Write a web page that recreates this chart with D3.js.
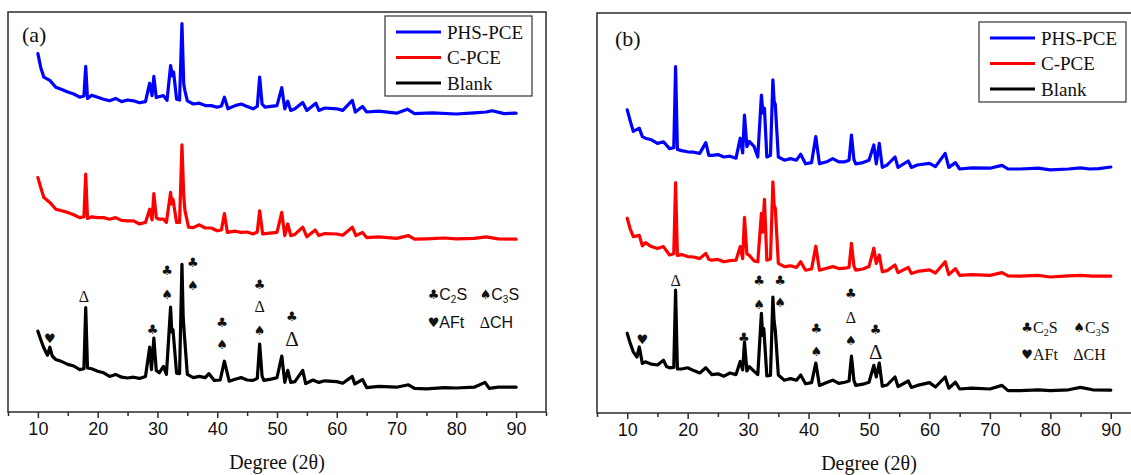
<!DOCTYPE html>
<html>
<head>
<meta charset="utf-8">
<script src="https://cdn.jsdelivr.net/npm/d3@7"></script>
<style>
  body { margin: 0; background: #fff; }
  svg { display: block; }
</style>
</head>
<body>
<div id="chart"></div>
<script>
// ---- data (2theta, relative intensity 0-100 of panel height) ----
const xTicks = [10, 20, 30, 40, 50, 60, 70, 80, 90];
const seriesNames = ["PHS-PCE", "C-PCE", "Blank"];
const seriesColors = ["#0000ff", "#ff0000", "#000000"];

const aPHS = [[10,89.6],[10.5,86],[11,83.7],[12,82.9],[13,81.2],[14,80.6],[15,80],[16,79.5],[17,78.7],[17.7,79],[18,86.4],[18.3,78.4],[19,79.2],[20,78.7],[21,78.2],[22,77.8],[23,78.4],[24,77.6],[25,78],[26,77.8],[27,77.3],[28,77.6],[28.7,82.2],[29.1,79.1],[29.4,83.9],[29.8,78.6],[30.2,78.8],[31,79.1],[31.6,77.9],[32.2,86.6],[32.5,84],[32.7,85],[33.2,78.2],[33.7,78],[34.1,97.1],[34.4,82],[34.6,80.3],[35,77.8],[36,77],[37,77.2],[38,76.6],[39,76.6],[40,76.2],[40.7,76.5],[41.2,78.7],[41.8,75.8],[43,76.6],[44,77],[45,76.4],[46,75.8],[46.7,76.4],[47.1,83.7],[47.5,77],[48,76.2],[50,76.6],[50.8,81.1],[51.3,75.8],[51.8,77.7],[52.3,75.4],[53,75.8],[54.3,77.4],[55,75.4],[56.5,77.2],[57,75.4],[58,76],[60,75.8],[61,75.4],[62.6,77.9],[63.1,75],[64.3,76.4],[65,75],[67,75.2],[70,74.7],[71.8,75.7],[73,74.6],[76,74.8],[80,74.5],[83,74.8],[85,75],[86,75.3],[88,74.6],[90,74.7]];
const aCPCE = [[10,58.6],[10.5,56],[11,53.6],[12,52.4],[13,50.7],[14,50.3],[15,49.9],[16,49.3],[17,48.6],[17.7,48.8],[18,59.5],[18.3,48.4],[19,48.8],[20,48.6],[21,48.6],[22,48.2],[23,48.6],[24,47.9],[25,47.8],[26,47.8],[27,47],[28,47.4],[28.7,50.7],[29.1,48],[29.4,54.6],[29.8,48.6],[30.2,48.2],[31,48.2],[31.5,47.4],[32.2,54.9],[32.4,52],[32.6,53.2],[33.2,47.4],[33.7,47.4],[34.1,66.8],[34.4,54],[34.6,50.4],[35.2,46.2],[36,46.1],[37,46.8],[38,46],[39,46],[40,45.3],[40.7,45.5],[41.2,49.6],[41.7,44.9],[43,45.2],[44,44.9],[45,45],[46,44.5],[46.7,45],[47.1,50.3],[47.6,44.5],[48,44.6],[50,44.9],[50.8,49.9],[51.3,44.1],[51.8,47],[52.3,44.1],[53,44.4],[54.3,46.2],[55,43.8],[56.4,45.5],[57,44.1],[58,44.6],[60,44.5],[61,44.2],[62.6,46.2],[63.2,44.1],[64.3,44.9],[65,43.6],[67,43.8],[70,43.4],[72,44.1],[73,43.2],[75,43.3],[78,43.5],[80,43.3],[83,43.4],[85,43.8],[87,43.3],[90,43.2]];
const aBlank = [[10,20.2],[10.5,18],[11,16],[11.6,14.2],[12,16.2],[12.4,14],[13,13.1],[14,12.6],[15,11.9],[16,11.5],[17,10.6],[17.7,10.8],[18,26.1],[18.3,11],[19,10.8],[20,10.2],[21,9.8],[22,8.9],[23,9.4],[24,8.7],[25,8.5],[26,8.7],[27,8.4],[28,8.9],[28.7,16.2],[29,10.6],[29.4,18.5],[29.8,10.4],[30.3,9.8],[31,11.4],[31.5,9.4],[32.2,26.2],[32.4,20],[32.6,20.6],[33.2,9.7],[33.7,9.6],[34.1,36.9],[34.3,24],[34.5,19.4],[35,9.4],[36,8.6],[37,8.9],[38,8.6],[38.6,9.6],[39.5,7.9],[40.5,8],[41.2,12.7],[42,7.7],[43,8.2],[44,8.6],[45,8],[46,7.9],[46.7,8.4],[47.1,17],[47.5,9],[47.8,7.9],[49,8.2],[50,8.6],[50.8,14],[51.3,7.4],[51.8,10.4],[52.3,7.4],[53,7.6],[54.3,10.4],[54.8,7.1],[56,8],[57,7.4],[58,7.8],[60,7.6],[61,7.2],[62.6,8.9],[63,7],[64.3,8.1],[65,6.1],[67,6.4],[70,6.2],[72,6.8],[73,5.9],[75,5.8],[78,6.1],[80,6],[83,6.2],[84.8,7.4],[85.5,5.9],[87,6.2],[90,6.2]];

const bPHS = [[10,75.8],[10.5,73],[11,70.4],[12,71.2],[12.5,69.1],[13,68.7],[14,68.3],[15,67.4],[16,67.8],[17,66.1],[17.7,66.3],[18,86.6],[18.3,65.9],[19,65.6],[20,65.3],[21,65.2],[22,64.9],[23,67.6],[23.5,64.4],[24,64.4],[25,64.6],[26,64],[27,64.2],[28,63.7],[28.7,68.7],[29.1,65],[29.4,74.5],[29.8,66.6],[30.2,67.9],[31,66.6],[31.6,64],[32.2,79.5],[32.45,75],[32.7,76.2],[33.1,64],[33.7,64.4],[34.1,83.3],[34.3,78],[34.5,77.1],[35,64],[36,63.2],[37,63.6],[38,63.2],[38.7,64.7],[39.5,62.3],[40.5,62.6],[41.2,69.1],[41.8,62.3],[43,62.8],[44,63.6],[45,62.8],[46,62.8],[46.7,63.2],[47.1,69.5],[47.5,63.4],[47.8,62.3],[49,62.6],[50,63.2],[50.8,67],[51.2,62.3],[51.7,67.4],[52.2,61.4],[53,62],[54.3,64],[54.8,61.4],[56.5,63],[57,61.4],[58,62],[60,62.4],[61,61.6],[62.6,64.9],[63.2,61.4],[64.3,62.6],[65,61],[67,61.3],[70,61.2],[72,61.9],[73,61],[75,61],[78,61.2],[80,60.8],[83,61],[85,61.3],[86.5,61],[88,61.1],[90,61.5]];
const bCPCE = [[10,48.7],[10.5,46],[11,44.1],[12,44.4],[12.5,41.8],[13,42.6],[14,41.6],[15,41.1],[16,41.6],[17,39.5],[17.7,39.8],[18,57.6],[18.3,39.4],[19,39.6],[20,39.1],[21,39],[22,38.6],[23,39.9],[23.5,38.4],[24,38.2],[25,38.4],[26,37.8],[27,38.1],[28,38.2],[28.7,41.6],[29.1,38.6],[29.4,48.9],[29.8,39.8],[30.2,39.4],[31,38],[31.6,37.8],[32.2,49.9],[32.4,45.2],[32.7,53.4],[33.1,38.2],[33.7,38.5],[34.1,57.8],[34.3,52],[34.5,51.2],[35,37.4],[36,36.6],[37,36.8],[38,36.4],[38.7,37.8],[39.5,35.7],[40.5,36],[41.2,41.7],[41.8,35.7],[43,36.2],[44,36.6],[45,36.1],[46,36.2],[46.7,36.4],[47.1,42.4],[47.5,36.8],[47.8,35.7],[49,36],[50,36.6],[50.8,41.2],[51.2,37.4],[51.7,39.5],[52.2,35.3],[53,35.6],[54.3,37],[54.8,35.1],[56.5,36.4],[57,34.9],[58,35.4],[60,35.8],[61,35],[62.6,37.8],[63.2,34.6],[64.3,36.1],[65,34.4],[67,34.6],[70,34.4],[72,35.1],[73,34.3],[75,34.2],[78,34.4],[80,34],[83,34.3],[85,34.4],[87,34.2],[90,34.2]];
const bBlank = [[10,19.9],[10.5,17.4],[11,15.3],[11.6,14],[12,16.5],[12.5,12.4],[13,12.8],[14,12.2],[15,12],[16,13.2],[16.5,11.6],[17,11.3],[17.7,11.4],[18,30.7],[18.3,11],[19,11],[20,11.3],[21,10.6],[22,10],[23,11.3],[24,9.6],[25,9.8],[26,9.2],[27,10],[28,9.6],[28.7,12.9],[29.1,10.8],[29.4,17.8],[29.8,10.5],[30.2,11.6],[31,10.4],[31.6,9.6],[32.2,24.9],[32.4,19.4],[32.6,21.1],[33.1,9.3],[33.7,9.4],[34.1,29],[34.3,23],[34.5,20.7],[35,9.5],[36,8.2],[37,8.6],[38,8.2],[38.7,9.5],[39.5,7.3],[40.5,7.6],[41.2,12.5],[41.8,6.9],[43,7.6],[44,8.2],[45,7.4],[46,7.7],[46.7,8],[47.1,14.2],[47.5,8.2],[47.8,6.9],[49,7.2],[50,7.7],[50.8,11.9],[51.2,9],[51.7,12.5],[52.2,6.7],[53,7],[54.3,9],[54.8,6.6],[56.5,8],[57,6.4],[58,6.9],[60,7.6],[61,6.5],[62.6,9],[63.2,6.2],[64.3,7.7],[65,6],[67,6.2],[70,6],[72,6.9],[73,5.6],[75,5.6],[78,5.8],[80,5.6],[83,5.8],[85,6.4],[87,5.8],[90,5.7]];

// phase markers above the Blank peaks: [2theta, intensity, symbol, size]
const aMarks = [[12.0,18.4,"♥",13],[17.7,29.0,"Δ",16],[29.2,20.6,"♣",13],[31.6,35.3,"♣",13],[31.6,29.4,"♠",13],
  [35.9,37.3,"♣",13],[35.9,31.7,"♠",13],[40.8,22.4,"♣",13],[40.8,16.8,"♠",13],
  [47.1,31.8,"♣",13],[47.1,26.4,"Δ",16],[47.1,20.3,"♠",13],[52.5,24.0,"♣",13],[52.5,18.2,"Δ",21]];
const bMarks = [[12.5,18.4,"♥",13],[18.0,33.1,"Δ",16],[29.3,19.0,"♣",13],[31.8,33.1,"♣",13],[31.8,27.2,"♠",13],
  [35.3,33.1,"♣",13],[35.3,27.6,"♠",13],[41.3,21.1,"♣",13],[41.3,15.5,"♠",13],
  [47.0,29.9,"♣",13],[47.0,24.0,"Δ",16],[47.0,18.2,"♠",13],[51.1,21.0,"♣",13],[51.1,15.3,"Δ",21]];

// phase key: [symbol, main, subscript, rest]
const phaseKey = [["♣", "C", "2", "S"], ["♠", "C", "3", "S"], ["♥", "AFt", "", ""], ["Δ", "CH", "", ""]];

// ---- layout ----
const W = 1131, H = 475;
const svg = d3.select("#chart").append("svg")
  .attr("width", W).attr("height", H)
  .style("background-color", "#fff");

const panels = [
  { left: 8, top: 12, right: 546, bottom: 412, label: "(a)", labelX: 22, labelY: 42,
    series: [aPHS, aCPCE, aBlank], marks: aMarks, keyFont: "Liberation Sans, Arial, sans-serif",
    keyX: [75.2, 83.9], keyY: [29.6, 22.6],
    legend: { x: 385, y: 16, w: 147, h: 80 } },
  { left: 597, top: 13, right: 1141, bottom: 413, label: "(b)", labelX: 615, labelY: 46,
    series: [bPHS, bCPCE, bBlank], marks: bMarks, keyFont: "Liberation Serif, Times New Roman, serif",
    keyX: [75.2, 83.8], keyY: [21.5, 14.7],
    legend: { x: 979, y: 22, w: 147, h: 80 } }
];

panels.forEach(function (p) {
  const g = svg.append("g");

  const x = d3.scaleLinear().domain([5, 95]).range([p.left, p.right]);
  const y = d3.scaleLinear().domain([0, 100]).range([p.bottom, p.top]);

  const line = d3.line()
    .x(d => x(d[0]))
    .y(d => y(d[1]));

  // traces
  p.series.forEach(function (s, i) {
    g.append("path")
      .datum(s)
      .attr("d", line)
      .attr("fill", "none")
      .attr("stroke", seriesColors[i])
      .attr("stroke-width", 3.2)
      .attr("stroke-linejoin", "round")
      .attr("stroke-linecap", "round");
  });

  // frame
  g.append("rect")
    .attr("x", p.left).attr("y", p.top)
    .attr("width", p.right - p.left).attr("height", p.bottom - p.top)
    .attr("fill", "none").attr("stroke", "#2b2b2b").attr("stroke-width", 1.5);

  // x axis
  const axis = d3.axisBottom(x)
    .tickValues(xTicks)
    .tickSize(6)
    .tickPadding(4)
    .tickFormat(d3.format("d"));
  const ax = g.append("g")
    .attr("transform", "translate(0," + p.bottom + ")")
    .call(axis);
  ax.select(".domain").remove();
  ax.selectAll("line").attr("stroke", "#2b2b2b").attr("stroke-width", 1.5);
  ax.selectAll("text")
    .style("font-family", "Liberation Sans, Arial, sans-serif")
    .style("font-size", "18px")
    .attr("fill", "#111");

  // minor ticks
  const minor = d3.axisBottom(x)
    .tickValues(d3.range(5, 96, 10))
    .tickSize(4)
    .tickFormat("");
  const mx = g.append("g")
    .attr("transform", "translate(0," + p.bottom + ")")
    .call(minor);
  mx.select(".domain").remove();
  mx.selectAll("line").attr("stroke", "#2b2b2b").attr("stroke-width", 1.5);

  // axis title
  g.append("text")
    .attr("x", x(50)).attr("y", p.bottom + 57)
    .attr("text-anchor", "middle")
    .style("font-family", "Liberation Serif, Times New Roman, serif")
    .style("font-size", "20px")
    .attr("fill", "#111")
    .text("Degree (2θ)");

  // panel label
  g.append("text")
    .attr("x", p.labelX).attr("y", p.labelY)
    .style("font-family", "Liberation Serif, Times New Roman, serif")
    .style("font-size", "22px")
    .attr("fill", "#111")
    .text(p.label);

  // phase markers
  g.selectAll("text.mark")
    .data(p.marks)
    .enter().append("text")
    .attr("class", "mark")
    .attr("x", d => x(d[0]))
    .attr("y", d => y(d[1]))
    .attr("text-anchor", "middle")
    .attr("dominant-baseline", "central")
    .style("font-family", d => d[2] === "Δ" ? "Liberation Serif, serif" : "DejaVu Sans, sans-serif")
    .style("font-size", d => d[3] + "px")
    .attr("fill", "#111")
    .text(d => d[2]);

  // phase key
  phaseKey.forEach(function (k, i) {
    const t = g.append("text")
      .attr("x", x(p.keyX[i % 2]))
      .attr("y", y(p.keyY[Math.floor(i / 2)]))
      .attr("dominant-baseline", "central")
      .style("font-family", p.keyFont)
      .style("font-size", "16px")
      .attr("fill", "#111");
    t.append("tspan")
      .style("font-family", k[0] === "Δ" ? "Liberation Serif, serif" : "DejaVu Sans, sans-serif")
      .style("font-size", k[0] === "Δ" ? "16px" : "13px")
      .text(k[0]);
    t.append("tspan").text(k[1]);
    if (k[2]) {
      t.append("tspan").attr("dy", 5).style("font-size", "10px").text(k[2]);
      t.append("tspan").attr("dy", -5).text(k[3]);
    }
  });

  // legend
  const L = p.legend;
  const lg = g.append("g");
  lg.append("rect")
    .attr("x", L.x).attr("y", L.y).attr("width", L.w).attr("height", L.h)
    .attr("fill", "#fff").attr("stroke", "#333").attr("stroke-width", 1.2);
  seriesNames.forEach(function (name, i) {
    const yy = L.y + 16 + i * 25.5;
    lg.append("line")
      .attr("x1", L.x + 11).attr("x2", L.x + 56)
      .attr("y1", yy).attr("y2", yy)
      .attr("stroke", seriesColors[i]).attr("stroke-width", 3);
    lg.append("text")
      .attr("x", L.x + 62).attr("y", yy)
      .attr("dominant-baseline", "central")
      .style("font-family", "Liberation Serif, Times New Roman, serif")
      .style("font-size", "19px")
      .attr("fill", "#111")
      .text(name);
  });
});
</script>
</body>
</html>
